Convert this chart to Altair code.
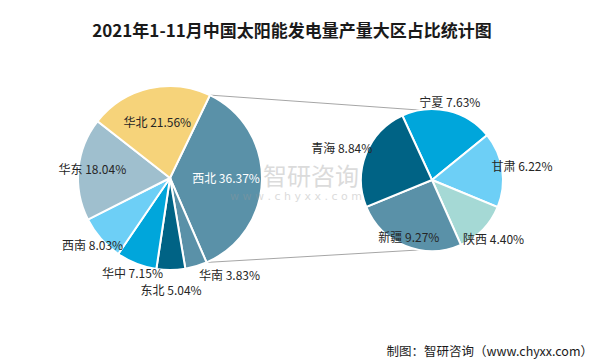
import math
import altair as alt
import pandas as pd

# ---- data ----
main_regions = ["西北", "华南", "东北", "华中", "西南", "华东", "华北"]
main_values = [36.37, 3.83, 5.04, 7.15, 8.03, 18.04, 21.56]
main_colors = ["#5A91A8", "#5A91A8", "#006385", "#00A6DB", "#6DCFF6", "#9FBFCE", "#F6D37A"]

sub_regions = ["宁夏", "甘肃", "陕西", "新疆", "青海"]
sub_values = [7.63, 6.22, 4.40, 9.27, 8.84]
sub_colors = ["#00A6DB", "#6DCFF6", "#A5D9D5", "#5A91A8", "#006385"]

title_text = "2021年1-11月中国太阳能发电量产量大区占比统计图"
source_text = "制图：智研咨询（www.chyxx.com）"

# ---- layout (pixel, plot-area coordinates) ----
W, H = 590, 356
L_CX, L_CY, L_R = 162, 170, 92
R_CX, R_CY, R_R = 424, 172, 71
L_START = math.radians(25.7)
R_START = math.radians(335.3)

main_label_r = [56, 102, 113, 103, 103, 78, 56]
main_label_align = ["center", "left", "center", "center", "center", "center", "center"]
main_label_base = ["middle"] * 7
main_label_color = ["white"] + ["#262626"] * 6
sub_label_r = [79, 91, 86, 62, 97]
sub_label_base = ["middle", "middle", "middle", "middle", "top"]


def pie_frame(names, values, colors, start, cx, cy, lr, aligns, bases, lcolors):
    total = sum(values)
    rows = []
    acc = 0.0
    for i, (n, v) in enumerate(zip(names, values)):
        mid = start + 2 * math.pi * (acc + v / 2) / total
        acc += v
        rows.append({
            "name": n, "value": v, "idx": i, "color": colors[i],
            "label": f"{n} {v:.2f}%",
            "lx": cx + lr[i] * math.sin(mid),
            "ly": cy - lr[i] * math.cos(mid),
            "align": aligns[i], "base": bases[i], "lcolor": lcolors[i],
        })
    return pd.DataFrame(rows)


main_df = pie_frame(main_regions, main_values, main_colors, L_START, L_CX, L_CY,
                    main_label_r, main_label_align, main_label_base, main_label_color)
sub_df = pie_frame(sub_regions, sub_values, sub_colors, R_START, R_CX, R_CY,
                   sub_label_r, ["center"] * 5, sub_label_base, ["#262626"] * 5)


def pie(df, start, cx, cy, r):
    return alt.Chart(df).mark_arc(stroke="white", strokeWidth=2, radius=r).encode(
        theta=alt.Theta("value:Q", stack=True,
                        scale=alt.Scale(range=[start, start + 2 * math.pi])),
        order=alt.Order("idx:Q"),
        color=alt.Color("name:N", scale=alt.Scale(domain=list(df["name"]), range=list(df["color"])),
                        legend=None),
        x=alt.value(cx), y=alt.value(cy),
    )


def labels(df, align, base):
    d = df[(df["align"] == align) & (df["base"] == base)]
    return alt.Chart(d).mark_text(font="Noto Sans CJK SC", fontSize=12, align=align,
                                  baseline=base).encode(
        x=alt.X("lx:Q", scale=None), y=alt.Y("ly:Q", scale=None),
        text="label:N", color=alt.Color("lcolor:N", scale=None),
    )


# connector lines from the 西北 slice edges to the right pie
a1 = L_START
a2 = L_START + 2 * math.pi * main_values[0] / sum(main_values)
conn_df = pd.DataFrame([
    {"x": L_CX + L_R * math.sin(a1), "y": L_CY - L_R * math.cos(a1),
     "x2": R_CX + R_R * math.sin(math.radians(-10)), "y2": R_CY - R_R * math.cos(math.radians(-10))},
    {"x": L_CX + L_R * math.sin(a2), "y": L_CY - L_R * math.cos(a2),
     "x2": R_CX + R_R * math.sin(math.radians(190)), "y2": R_CY - R_R * math.cos(math.radians(190))},
])
connectors = alt.Chart(conn_df).mark_rule(color="#A6A6A6", strokeWidth=1).encode(
    x=alt.X("x:Q", scale=None), y=alt.Y("y:Q", scale=None),
    x2="x2:Q", y2="y2:Q",
)

title = alt.Chart(pd.DataFrame({"t": [title_text]})).mark_text(
    font="Noto Sans CJK SC", fontSize=17, fontWeight="bold", color="#1a1a1a",
    align="center", baseline="middle").encode(
    x=alt.value(284), y=alt.value(24), text="t:N")

source = alt.Chart(pd.DataFrame({"t": [source_text]})).mark_text(
    font="Noto Sans CJK SC", fontSize=12.5, color="#1a1a1a",
    align="right", baseline="middle").encode(
    x=alt.value(585), y=alt.value(344), text="t:N")

wm1 = alt.Chart(pd.DataFrame({"t": ["智研咨询"]})).mark_text(
    font="Noto Sans CJK SC", fontSize=24, color="#9a9a9a", opacity=0.35,
    align="left", baseline="middle").encode(
    x=alt.value(255), y=alt.value(170), text="t:N")
wm2 = alt.Chart(pd.DataFrame({"t": ["w w w . c h y x x . c o m"]})).mark_text(
    font="DejaVu Sans", fontSize=11, color="#9a9a9a", opacity=0.35,
    align="left", baseline="middle").encode(
    x=alt.value(222), y=alt.value(189), text="t:N")

chart = alt.layer(
    connectors,
    pie(main_df, L_START, L_CX, L_CY, L_R),
    pie(sub_df, R_START, R_CX, R_CY, R_R),
    wm1, wm2,
    labels(main_df, "center", "middle"), labels(main_df, "left", "middle"),
    labels(sub_df, "center", "middle"), labels(sub_df, "center", "top"),
    title, source,
).resolve_scale(theta="independent", color="independent").properties(
    width=W, height=H, autosize=alt.AutoSizeParams(type="none"), padding=0,
).configure_view(stroke=None)

chart.save("out.html", embed_options={"renderer": "svg", "actions": False})
